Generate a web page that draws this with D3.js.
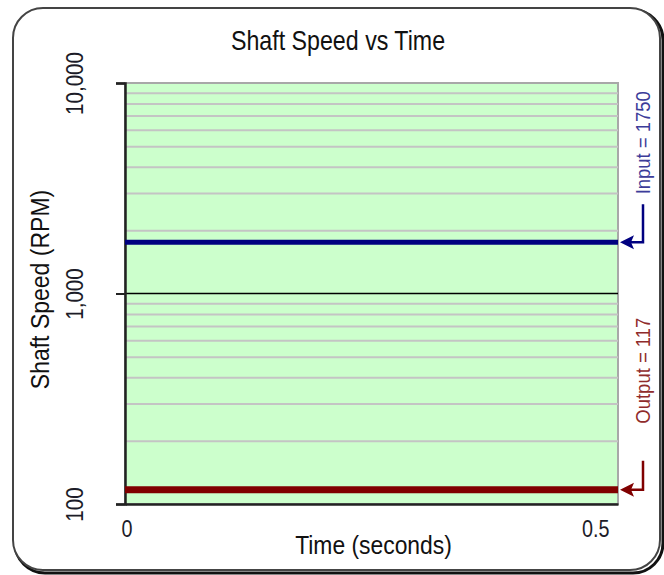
<!DOCTYPE html>
<html>
<head>
<meta charset="utf-8">
<script src="https://cdn.jsdelivr.net/npm/d3@7"></script>
<style>
  body { margin: 0; background: #fff; }
  svg text { font-family: "Liberation Sans", Arial, sans-serif; }
  .grid line { stroke: #c4c4c4; stroke-width: 2; }
  .grid path { display: none; }
</style>
</head>
<body>
<svg width="664" height="575"></svg>
<script>
// chart data
const times = [0, 0.5];
const inputRpm = [1750, 1750];
const outputRpm = [117, 117];
const yTicks = [100, 1000, 10000];
const xTicks = [0, 0.5];
const seriesNames = ['Input', 'Output'];

const svg = d3.select('svg');

// narrow look (no Arial Narrow installed) -> squeeze along the text direction
const sq = 0.86;

// frame with shadow
svg.append('rect')
  .attr('x', 15).attr('y', 10).attr('width', 648).attr('height', 563)
  .attr('rx', 30).attr('fill', 'none').attr('stroke', '#111').attr('stroke-width', 3);
svg.append('rect')
  .attr('x', 13).attr('y', 8).attr('width', 647).attr('height', 562)
  .attr('rx', 30).attr('fill', '#fff').attr('stroke', '#444').attr('stroke-width', 2);

const mLeft = 125, mRight = 618, mTop = 83, mBottom = 504;
const width = mRight - mLeft;
const height = mBottom - mTop;

const chart = svg.append('g').attr('transform', `translate(${mLeft}, ${mTop})`);

const xScale = d3.scaleLinear().domain([0, 0.5]).range([0, width]);
const yScale = d3.scaleLog().domain([100, 10000]).range([height, 0]);

chart.append('rect')
  .attr('width', width).attr('height', height)
  .attr('fill', '#ccffcc').attr('stroke', '#a8a8a8').attr('stroke-width', 2);

// minor grid
chart.append('g')
  .attr('class', 'grid')
  .call(d3.axisLeft(yScale).tickSize(-width).tickFormat('')
    .tickValues(yScale.ticks().filter(t => !yTicks.includes(t))));

// decade line
chart.selectAll('.decade')
  .data(yTicks.filter(t => t > 100 && t < 10000))
  .enter().append('line')
  .attr('x1', 0).attr('x2', width)
  .attr('y1', d => yScale(d)).attr('y2', d => yScale(d))
  .attr('stroke', '#000').attr('stroke-width', 1.5);

// y axis
const yAxis = chart.append('g')
  .call(d3.axisLeft(yScale).tickValues(yTicks).tickSize(9).tickFormat(d3.format(',')));
yAxis.select('.domain').attr('stroke', '#222').attr('stroke-width', 2.5);
yAxis.selectAll('.tick line').attr('stroke', '#222').attr('stroke-width', 2);
yAxis.selectAll('.tick text')
  .attr('x', 0).attr('dy', 0)
  .attr('transform', `translate(-42, 0) rotate(-90) scale(${sq}, 1)`)
  .attr('text-anchor', 'middle')
  .attr('font-size', 24).attr('fill', '#1c1c28');

// x axis
const xAxis = chart.append('g')
  .attr('transform', `translate(0, ${height})`)
  .call(d3.axisBottom(xScale).tickValues(xTicks).tickSize(0).tickFormat(d => d === 0 ? '0' : d3.format('.1f')(d)));
xAxis.select('.domain').attr('stroke', '#222').attr('stroke-width', 2.5);
xAxis.selectAll('.tick text')
  .attr('y', 0).attr('dy', 0)
  .attr('font-size', 23).attr('fill', '#1c1c28')
  .attr('text-anchor', (d, i) => i === 0 ? 'start' : 'end')
  .attr('transform', (d, i) => `translate(${i === 0 ? -4 : -9}, 33) scale(${sq}, 1)`);

// series lines
const line = d3.line().x(d => xScale(d[0])).y(d => yScale(d[1]));
const series = [
  { name: seriesNames[0], values: inputRpm, color: '#000080', text: '#3c3c99', w: 5, lead: 38, gap: 10 },
  { name: seriesNames[1], values: outputRpm, color: '#800000', text: '#8f2b2b', w: 7, lead: 29, gap: 37 }
];

series.forEach(s => {
  chart.append('path')
    .datum(times.map((t, i) => [t, s.values[i]]))
    .attr('d', line)
    .attr('fill', 'none')
    .attr('stroke', s.color)
    .attr('stroke-width', s.w);

  const y = yScale(s.values[s.values.length - 1]);
  const xr = width + 2;
  const xv = width + 25;
  chart.append('path')
    .attr('d', `M${xv},${y - s.lead} V${y} H${xr + 10}`)
    .attr('fill', 'none').attr('stroke', s.color).attr('stroke-width', 2.5);
  chart.append('path')
    .attr('d', `M${xr},${y} L${xr + 14},${y - 7} L${xr + 11},${y} L${xr + 14},${y + 7} Z`)
    .attr('fill', s.color);
  chart.append('text')
    .attr('transform', `translate(${xv + 7}, ${y - s.lead - s.gap}) rotate(-90) scale(0.88, 1)`)
    .attr('text-anchor', 'start')
    .attr('font-size', 21)
    .attr('fill', s.text)
    .text(`${s.name} = ${s.values[s.values.length - 1]}`);
});

// titles
svg.append('text')
  .attr('transform', `translate(338, 50) scale(${sq}, 1)`)
  .attr('text-anchor', 'middle')
  .attr('font-size', 27).attr('fill', '#111')
  .text('Shaft Speed vs Time');

svg.append('text')
  .attr('transform', `translate(49, ${mTop + height / 2 - 4}) rotate(-90) scale(0.92, 1)`)
  .attr('text-anchor', 'middle')
  .attr('font-size', 25).attr('fill', '#111')
  .text('Shaft Speed (RPM)');

svg.append('text')
  .attr('transform', `translate(${mLeft + width / 2 + 2}, 554) scale(0.88, 1)`)
  .attr('text-anchor', 'middle')
  .attr('font-size', 26).attr('fill', '#111')
  .text('Time (seconds)');
</script>
</body>
</html>
